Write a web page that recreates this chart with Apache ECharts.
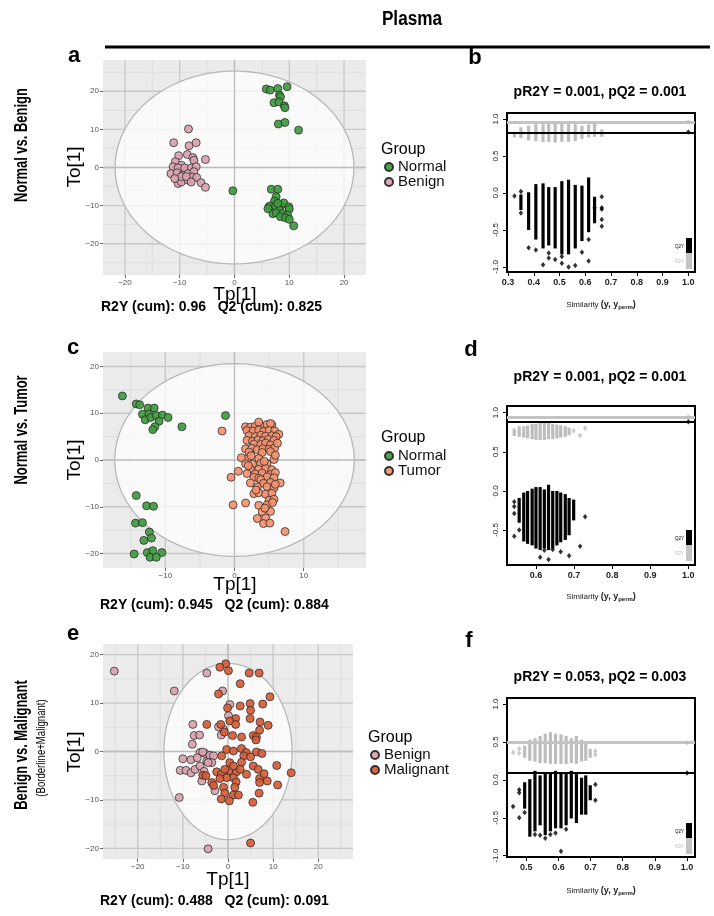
<!DOCTYPE html>
<html><head><meta charset="utf-8">
<script src="https://cdn.jsdelivr.net/npm/echarts@6/dist/echarts.min.js"></script>
<style>html,body{margin:0;padding:0;background:#fff}#c{width:714px;height:916px}</style>
</head><body><div id="c"></div>
<script>
// ---------------- DATA ----------------
// Panel a: Normal vs Benign (Tp[1], To[1])
const normalA = [[5.8,20.6],[6.5,20.3],[7.9,20.7],[9.6,21.2],[8.2,19.0],[8.4,18.5],[7.2,17.0],[8.1,17.2],[9.1,16.2],[9.2,15.7],[8.0,11.4],[9.2,11.8],[11.7,9.8],[-0.3,-6.1],[6.7,-5.7],[7.9,-5.7],[7.6,-7.7],[7.3,-8.8],[6.3,-10.3],[6.5,-10.1],[7.5,-10.1],[8.5,-9.9],[9.0,-9.3],[9.9,-10.3],[10.0,-10.9],[8.2,-11.2],[7.0,-12.1],[7.6,-11.9],[8.8,-12.1],[9.7,-12.5],[8.4,-12.9],[9.3,-13.2],[10.0,-13.6],[10.8,-15.3],[7.9,-9.4],[6.1,-10.8]];
const benignA = [[-8.4,10.1],[-11.1,6.5],[-8.3,5.7],[-7.0,6.5],[-8.6,3.4],[-10.2,3.1],[-10.8,1.5],[-7.6,2.6],[-7.4,1.9],[-5.3,2.1],[-9.7,0.6],[-11.2,0.2],[-10.3,-0.1],[-9.1,-0.1],[-7.9,-0.1],[-7.0,0.2],[-11.6,-1.6],[-10.5,-1.4],[-9.4,-2.0],[-8.5,-1.6],[-7.4,-1.1],[-10.3,-4.2],[-9.7,-3.8],[-8.5,-3.3],[-7.7,-2.5],[-6.9,-2.6],[-6.1,-4.0],[-5.3,-5.2],[-9.7,-2.4],[-10.9,-2.9],[-8.8,-2.4],[-7.9,-3.8]];
// Panel c: Normal vs Tumor
const normalC = [[-16.2,13.7],[-14.2,12.0],[-13.7,11.8],[-12.5,11.1],[-11.6,11.1],[-13.3,9.8],[-12.4,9.8],[-12.9,8.6],[-12.1,9.1],[-11.3,9.5],[-10.4,9.6],[-9.6,9.1],[-10.9,8.3],[-11.5,7.1],[-11.8,6.5],[-7.6,7.1],[-1.3,9.5],[-14.2,-7.6],[-12.7,-9.8],[-11.7,-9.9],[-14.3,-13.5],[-13.3,-13.4],[-12.3,-15.4],[-13.1,-17.2],[-12.0,-16.7],[-14.5,-20.1],[-12.6,-19.8],[-11.8,-19.4],[-10.5,-19.8],[-12.2,-20.8],[-11.3,-20.8]];
const tumorC = [[1.6,7.1],[2.3,7.0],[3.0,7.2],[3.8,7.3],[4.7,7.6],[5.4,7.5],[3.5,8.1],[5.2,7.8],[1.8,6.3],[2.7,6.2],[3.5,6.4],[4.2,6.1],[5.0,6.3],[5.8,6.2],[6.4,5.5],[2.1,5.2],[3.0,5.0],[3.8,5.3],[4.5,5.1],[5.4,5.2],[6.0,5.0],[1.8,4.2],[2.6,4.0],[3.4,4.3],[4.1,4.1],[4.9,4.4],[5.7,4.2],[2.8,3.4],[3.8,3.3],[4.5,3.6],[5.2,3.2],[1.6,2.4],[2.5,2.5],[3.3,2.2],[4.1,2.4],[5.0,2.3],[5.8,2.6],[2.1,1.7],[4.0,1.6],[5.2,1.8],[1.8,0.2],[3.5,0.3],[5.7,0.1],[5.9,1.0],[1.6,-0.8],[2.6,-0.9],[3.8,-0.7],[4.7,-0.8],[2.3,-1.9],[3.5,-2.0],[4.5,-1.8],[5.4,-2.1],[1.8,-2.9],[3.0,-3.0],[4.0,-2.8],[5.2,-3.1],[5.9,-2.7],[2.8,-3.7],[3.5,-3.9],[4.7,-3.6],[5.7,-3.8],[3.8,-4.2],[2.3,-4.9],[4.2,-5.0],[5.2,-4.8],[6.6,-4.9],[3.3,-5.8],[4.7,-5.7],[5.7,-6.0],[2.8,-7.2],[3.5,-7.0],[4.5,-7.3],[5.4,-7.1],[5.0,-8.6],[5.7,-8.4],[3.5,-9.7],[4.7,-9.6],[4.0,-11.1],[5.2,-11.0],[3.3,-12.5],[4.5,-12.4],[4.2,-13.6],[5.1,-13.5],[7.3,-15.3],[-1.8,6.2],[-0.5,-3.7],[0.55,-2.4],[-0.2,-9.6],[1.6,-9.2],[1.0,0.5],[2.0,-1.2],[4.3,-0.3],[3.1,-6.4],[5.5,-9.1],[4.4,-10.3],[5.9,-5.2],[2.4,0.9],[6.2,3.6]];
// Panel e: Benign vs Malignant
const benignE = [[-25.2,16.6],[-11.9,12.5],[-4.7,16.2],[-10.8,-9.5],[-4.4,-20.1],[-7.8,5.6],[-7.5,3.3],[-6.3,3.4],[-7.9,1.5],[-10.0,-1.5],[-10.6,-3.9],[-9.3,-3.9],[-8.2,-1.7],[-8.2,-4.4],[-7.3,-3.7],[-6.2,-3.0],[-6.2,-0.2],[-5.1,-0.4],[-4.7,-2.0],[-4.0,-0.8],[-3.2,-0.9],[-3.6,-2.3],[-5.8,-6.1],[-2.9,-8.1],[-1.2,12.5],[-1.5,3.4],[0.4,9.7],[-1.0,4.6],[-4.4,-2.3],[-5.3,-4.1],[-6.8,-1.3],[-5.6,-0.1],[-2.1,5.1],[0.1,7.4]];
const malignantE = [[-0.5,18.1],[-1.8,17.4],[0.1,16.7],[4.7,16.2],[6.9,16.2],[2.7,14.0],[-2.1,11.9],[9.3,11.3],[4.9,9.9],[7.7,9.8],[2.7,9.4],[-0.1,9.0],[5.0,8.5],[4.9,6.8],[1.7,6.8],[0.4,6.3],[7.1,6.1],[1.7,5.6],[-4.7,5.6],[-1.6,5.6],[8.9,5.4],[-0.8,4.0],[1.0,3.3],[3.0,3.0],[5.6,3.3],[6.3,3.0],[6.2,2.4],[7.0,4.4],[3.0,0.6],[-0.3,0.4],[1.2,0.1],[4.0,-0.2],[6.3,-0.1],[7.5,-0.4],[-1.4,-0.9],[3.5,-0.9],[5.0,-1.1],[0.4,-2.3],[3.0,-2.2],[5.6,-3.0],[6.7,-3.7],[-2.5,-4.2],[-1.5,-4.7],[0.2,-4.0],[1.9,-4.2],[2.7,-3.7],[4.1,-4.7],[7.0,-5.6],[8.0,-4.6],[8.7,-6.1],[7.0,-6.4],[10.8,-2.9],[14.0,-4.4],[11.0,-6.9],[1.2,-5.4],[-0.3,-5.4],[-1.8,-5.6],[-5.6,-4.9],[-4.9,-5.0],[-3.6,-6.4],[-3.2,-7.0],[-1.0,-7.4],[-0.7,-8.6],[1.2,-9.0],[2.3,-9.0],[-1.5,-9.8],[0.3,-10.2],[5.5,-10.5],[6.9,-8.6],[5.0,-18.9],[1.2,-3.0],[-0.7,-3.7],[1.8,-6.3],[1.5,-7.4]];
// 95% ellipses [cx, cy, rx, ry]
const ellipseA = [0, 0, 21.8, 25.3];
const ellipseC = [0, 0, 17.3, 20.6];
const ellipseE = [0, 0, 14.2, 18.2];
// Score-plot tick values
const ticksAx = [-20,-10,0,10,20], ticksAy = [-20,-10,0,10,20];
const ticksCx = [-10,0,10], ticksCy = [-20,-10,0,10,20];
const ticksEx = [-20,-10,0,10,20], ticksEy = [-20,-10,0,10,20];
const minorAx = [-15,-5,5,15], minorAy = [-25,-15,-5,5,15,25];
const minorCx = [-15,-5,5,15], minorCy = [-15,-5,5,15];
const minorEx = [-25,-15,-5,5,15,25], minorEy = [-15,-5,5,15];

// Panel b permutation (similarity columns, dense ranges and scattered points)
const permXB = [0.325,0.35,0.38,0.408,0.436,0.458,0.483,0.509,0.535,0.561,0.587,0.613,0.636,0.664];
const q2LoB = [null,-0.2,-0.47,-0.6,-0.72,-0.68,-0.72,-0.8,-0.8,-0.72,-0.62,-0.5,-0.38,null];
const q2HiB = [null,-0.05,-0.02,0.09,0.1,0.05,0.05,0.13,0.15,0.08,0.07,0.18,-0.08,null];
const r2LoB = [0.78,0.77,0.74,0.73,0.72,0.72,0.71,0.72,0.72,0.73,0.76,0.78,0.79,0.79];
const r2HiB = [0.8,0.86,0.88,0.9,0.9,0.91,0.92,0.91,0.9,0.9,0.88,0.88,0.9,0.83];
const q2PtsB = [[0.325,-0.04],[0.35,0.02],[0.35,-0.27],[0.38,-0.74],[0.408,-0.77],[0.436,-0.97],[0.458,-0.81],[0.458,-0.88],[0.483,-0.9],[0.509,-0.86],[0.509,-0.95],[0.535,-1.0],[0.561,-0.98],[0.587,-0.8],[0.613,-0.63],[0.613,-0.92],[0.636,-0.2],[0.664,-0.05],[0.664,-0.2],[0.664,-0.22],[0.664,-0.36],[0.664,-0.45],[1.0,0.825]];
const r2PtsB = [[0.613,0.91],[0.636,0.92],[1.0,0.96]];
const modelB = {r2: 0.96, q2: 0.825};
// Panel d
const permXD = [0.543,0.556,0.568,0.578,0.59,0.6,0.611,0.622,0.633,0.644,0.655,0.665,0.677,0.687,0.699];
const q2LoD = [null,-0.38,-0.62,-0.65,-0.67,-0.71,-0.73,-0.71,-0.73,-0.71,-0.67,-0.63,-0.6,-0.54,-0.35];
const q2HiD = [null,-0.12,-0.05,-0.03,0.0,0.02,0.02,-0.01,0.05,-0.03,-0.03,-0.05,-0.07,-0.12,-0.14];
const r2LoD = [0.73,0.72,0.71,0.7,0.69,0.68,0.68,0.68,0.69,0.69,0.7,0.71,0.72,0.74,null];
const r2HiD = [0.77,0.8,0.8,0.81,0.83,0.83,0.84,0.84,0.84,0.83,0.82,0.81,0.8,0.78,null];
const q2PtsD = [[0.543,-0.14],[0.543,-0.2],[0.543,-0.29],[0.543,-0.58],[0.556,-0.5],[0.611,-0.85],[0.622,-0.76],[0.633,-0.88],[0.644,-0.75],[0.665,-0.78],[0.687,-0.83],[0.716,-0.71],[0.729,-0.33],[1.0,0.884]];
const r2PtsD = [[0.699,0.77],[0.716,0.71],[0.729,0.8],[1.0,0.945]];
const modelD = {r2: 0.945, q2: 0.884};
// Panel f
const permXF = [0.495,0.511,0.527,0.543,0.559,0.575,0.591,0.608,0.624,0.64,0.656,0.672,0.685,0.699];
const q2LoF = [-0.35,-0.72,-0.65,-0.57,-0.7,-0.65,-0.61,-0.61,-0.57,-0.48,-0.54,-0.43,-0.43,-0.24];
const q2HiF = [-0.06,-0.02,0.09,0.03,0.07,0.05,0.09,0.05,0.07,0.09,0.07,0.0,0.03,-0.1];
const r2LoF = [0.32,0.28,0.27,0.25,0.25,0.24,0.24,0.24,0.24,0.25,0.24,0.27,0.28,0.32];
const r2HiF = [0.42,0.5,0.52,0.55,0.58,0.6,0.58,0.57,0.55,0.52,0.55,0.5,0.45,0.38];
const q2PtsF = [[0.459,-0.35],[0.478,-0.13],[0.478,-0.17],[0.478,-0.5],[0.495,-0.43],[0.527,-0.72],[0.543,-0.73],[0.559,-0.77],[0.575,-0.72],[0.591,-0.7],[0.608,-0.94],[0.624,-0.65],[0.715,-0.06],[0.715,-0.27],[1.0,0.091]];
const r2PtsF = [[0.459,0.36],[0.478,0.41],[0.478,0.35],[0.715,0.38],[0.715,0.33],[1.0,0.488]];
const modelF = {r2: 0.488, q2: 0.091};
const permTicksY = [-1,-0.5,0,0.5,1];
const permTicksYD = [-0.5,0,0.5,1];
const permTicksXB = [0.3,0.4,0.5,0.6,0.7,0.8,0.9,1.0];
const permTicksXD = [0.6,0.7,0.8,0.9,1.0];
const permTicksXF = [0.5,0.6,0.7,0.8,0.9,1.0];

// ---------------- STYLE ----------------
const C_NORMAL = '#3f9a3f', C_BENIGN = '#d8a2ae', C_TUMOR = '#f3906e', C_MALIG = '#d65c36';
const FONT = "'Liberation Sans', Arial, sans-serif";
const fmtM = v => v < 0 ? '\u2212' + Math.abs(v) : String(v);
const fmt1 = v => (v < 0 ? '-' : '') + Math.abs(v).toFixed(1);

const chart = echarts.init(document.getElementById('c'), null, {renderer: 'canvas'});

const grids = [
  {left:103, top:60, width:263, height:215, show:true, backgroundColor:'#ebebeb', borderWidth:0},
  {left:103, top:352, width:263, height:216, show:true, backgroundColor:'#ebebeb', borderWidth:0},
  {left:103, top:644, width:250, height:215, show:true, backgroundColor:'#ebebeb', borderWidth:0},
  {left:507, top:113, width:188, height:159, show:true, backgroundColor:'#fff', borderColor:'#000', borderWidth:2},
  {left:507, top:406, width:188, height:159, show:true, backgroundColor:'#fff', borderColor:'#000', borderWidth:2},
  {left:507, top:698, width:188, height:159, show:true, backgroundColor:'#fff', borderColor:'#000', borderWidth:2}
];

function scoreAxis(gi, min, max, ticks, isX) {
  return {
    gridIndex: gi, type: 'value', min, max, position: isX ? 'bottom' : 'left',
    axisLine: {show: false, onZero: false},
    axisTick: {show: true, customValues: ticks, length: 3, lineStyle: {color: '#444', width: 0.8}},
    axisLabel: {customValues: ticks, formatter: fmtM, fontSize: 8, color: '#555', margin: 4, fontFamily: FONT},
    splitLine: {show: false}
  };
}
function permAxis(gi, min, max, ticks, isX) {
  return {
    gridIndex: gi, type: 'value', min, max, position: isX ? 'bottom' : 'left',
    axisLine: {show: false, onZero: false},
    axisTick: {show: true, customValues: ticks, length: 4, lineStyle: {color: '#000', width: 1}},
    axisLabel: isX
      ? {customValues: ticks, formatter: fmt1, fontSize: 9, fontWeight: 'bold', color: '#222', margin: 6, fontFamily: FONT}
      : {customValues: ticks, formatter: fmt1, fontSize: 8, color: '#222', margin: 7, rotate: 90, fontFamily: FONT},
    splitLine: {show: false}
  };
}

const xAxes = [
  scoreAxis(0, -24, 24, ticksAx, true),
  scoreAxis(1, -19, 19, ticksCx, true),
  scoreAxis(2, -27.7, 27.7, ticksEx, true),
  permAxis(3, 0.296, 1.026, permTicksXB, true),
  permAxis(4, 0.524, 1.0175, permTicksXD, true),
  permAxis(5, 0.44, 1.025, permTicksXF, true)
];
const yAxes = [
  scoreAxis(0, -28.2, 28.2, ticksAy, false),
  scoreAxis(1, -23.1, 23.1, ticksCy, false),
  scoreAxis(2, -22.2, 22.2, ticksEy, false),
  permAxis(3, -1.068, 1.081, permTicksY, false),
  permAxis(4, -0.949, 1.086, permTicksYD, false),
  permAxis(5, -1.017, 1.079, permTicksY, false)
];

function lineSeries(gi, vx, hy, color, width, z) {
  const data = vx.map(v => [v, 0]).concat(hy.map(v => [v, 1]));
  return {
    type: 'custom', xAxisIndex: gi, yAxisIndex: gi, z, silent: true, data,
    renderItem(params, api) {
      const v = api.value(0), dir = api.value(1), cs = params.coordSys;
      let shape;
      if (dir === 0) { const p = api.coord([v, 0]); shape = {x1: p[0], y1: cs.y, x2: p[0], y2: cs.y + cs.height}; }
      else { const p = api.coord([0, v]); shape = {x1: cs.x, y1: p[1], x2: cs.x + cs.width, y2: p[1]}; }
      return {type: 'line', shape, style: {stroke: color, lineWidth: width}};
    }
  };
}
function ellipseSeries(gi, e) {
  return {
    type: 'custom', xAxisIndex: gi, yAxisIndex: gi, z: 2, silent: true, data: [e],
    renderItem(params, api) {
      const cx = api.value(0), cy = api.value(1), rx = api.value(2), ry = api.value(3);
      const pts = [];
      for (let i = 0; i < 180; i++) {
        const t = i / 180 * Math.PI * 2;
        pts.push(api.coord([cx + rx * Math.cos(t), cy + ry * Math.sin(t)]));
      }
      return {type: 'polygon', shape: {points: pts}, style: {fill: 'rgba(255,255,255,0.72)', stroke: '#b8b8b8', lineWidth: 1.3}};
    }
  };
}
function scoreScatter(gi, name, data, color) {
  return {
    type: 'scatter', name, xAxisIndex: gi, yAxisIndex: gi, z: 4, data, symbolSize: 8,
    itemStyle: {color, borderColor: '#262626', borderWidth: 0.8, opacity: 0.92}
  };
}
function colSeries(gi, xs, lo, hi, color) {
  const data = xs.map((x, i) => [x, lo[i], hi[i]]).filter(d => d[1] != null);
  return {
    type: 'custom', xAxisIndex: gi, yAxisIndex: gi, z: 3, silent: true, data,
    renderItem(params, api) {
      const a = api.coord([api.value(0), api.value(2)]);
      const b = api.coord([api.value(0), api.value(1)]);
      return {type: 'rect', shape: {x: a[0] - 1.6, y: a[1] - 2.2, width: 3.2, height: b[1] - a[1] + 4.4}, style: {fill: color}};
    }
  };
}
function ptSeries(gi, data, color, lineVal, lineColor, lineWidth, z) {
  return {
    type: 'scatter', xAxisIndex: gi, yAxisIndex: gi, z, silent: true, data,
    symbol: 'diamond', symbolSize: [4.5, 5.5], itemStyle: {color},
    markLine: {silent: true, symbol: 'none', label: {show: false}, data: [{yAxis: lineVal}],
      lineStyle: {color: lineColor, width: lineWidth, type: 'solid'}, animation: false}
  };
}

const series = [
  // panel a
  lineSeries(0, minorAx, minorAy, '#d9d9d9', 0.7, 1),
  lineSeries(0, ticksAx, ticksAy, '#c8c8c8', 1.3, 1),
  ellipseSeries(0, ellipseA),
  lineSeries(0, [0], [0], '#bdbdbd', 1.3, 3),
  scoreScatter(0, 'Normal', normalA, C_NORMAL),
  scoreScatter(0, 'Benign', benignA, C_BENIGN),
  // panel c
  lineSeries(1, minorCx, minorCy, '#d9d9d9', 0.7, 1),
  lineSeries(1, ticksCx, ticksCy, '#c8c8c8', 1.3, 1),
  ellipseSeries(1, ellipseC),
  lineSeries(1, [0], [0], '#bdbdbd', 1.3, 3),
  scoreScatter(1, 'Normal', normalC, C_NORMAL),
  scoreScatter(1, 'Tumor', tumorC, C_TUMOR),
  // panel e
  lineSeries(2, minorEx, minorEy, '#d9d9d9', 0.7, 1),
  lineSeries(2, ticksEx, ticksEy, '#c8c8c8', 1.3, 1),
  ellipseSeries(2, ellipseE),
  lineSeries(2, [0], [0], '#bdbdbd', 1.3, 3),
  scoreScatter(2, 'Benign', benignE, C_BENIGN),
  scoreScatter(2, 'Malignant', malignantE, C_MALIG),
  // panel b
  colSeries(3, permXB, r2LoB, r2HiB, '#bdbdbd'),
  colSeries(3, permXB, q2LoB, q2HiB, '#000'),
  ptSeries(3, r2PtsB, '#bdbdbd', modelB.r2, '#c4c4c4', 3, 5),
  ptSeries(3, q2PtsB, '#000', modelB.q2, '#000', 2, 6),
  // panel d
  colSeries(4, permXD, r2LoD, r2HiD, '#bdbdbd'),
  colSeries(4, permXD, q2LoD, q2HiD, '#000'),
  ptSeries(4, r2PtsD, '#bdbdbd', modelD.r2, '#c4c4c4', 3, 5),
  ptSeries(4, q2PtsD, '#000', modelD.q2, '#000', 2, 6),
  // panel f
  colSeries(5, permXF, r2LoF, r2HiF, '#bdbdbd'),
  colSeries(5, permXF, q2LoF, q2HiF, '#000'),
  ptSeries(5, r2PtsF, '#bdbdbd', modelF.r2, '#c4c4c4', 3, 5),
  ptSeries(5, q2PtsF, '#000', modelF.q2, '#000', 2, 6)
];

function legendCfg(names, left, top, gap) {
  return {
    data: names, orient: 'vertical', left, top, padding: 0, itemGap: 0,
    itemWidth: 8, itemHeight: 8, itemTextGap: gap, icon: 'circle', selectedMode: false,
    textStyle: {fontSize: 15, lineHeight: 13, color: '#111', fontFamily: FONT}
  };
}

function txt(text, x, y, font, opts) {
  opts = opts || {};
  return {type: 'text', x, y, rotation: opts.rot || 0, scaleX: opts.sx || 1, silent: true,
    style: {text, font, fill: opts.fill || '#000', textAlign: opts.align || 'center', textVerticalAlign: 'middle'}};
}
function simLabel(x, y) {
  return {type: 'text', x, y, silent: true, style: {
    text: '{a|Similarity }{b|(y, y}{s|perm}{b|)}',
    textAlign: 'center', textVerticalAlign: 'middle',
    rich: {
      a: {fontSize: 8, fontFamily: FONT, fill: '#222'},
      b: {fontSize: 9, fontFamily: FONT, fontWeight: 'bold', fill: '#222'},
      s: {fontSize: 6, fontFamily: FONT, fontWeight: 'bold', fill: '#222', padding: [5, 0, 0, 0]}
    }
  }};
}
function legendBox(yTop) {
  return [
    {type: 'rect', shape: {x: 686, y: yTop, width: 6, height: 15}, style: {fill: '#000'}, silent: true},
    {type: 'rect', shape: {x: 686, y: yTop + 15, width: 6, height: 16}, style: {fill: '#c4c4c4'}, silent: true},
    txt('Q2Y', 684, yTop + 9, '4.5px ' + FONT, {align: 'right'}),
    txt('R2Y', 684, yTop + 24, '4.5px ' + FONT, {align: 'right', fill: '#bbb'})
  ];
}

const BOLD_TITLE = 'bold 14px ' + FONT;
const ROT = Math.PI / 2;
const graphics = [
  txt('Plasma', 412, 19, 'bold 20px ' + FONT, {sx: 0.86}),
  {type: 'line', shape: {x1: 105, y1: 47, x2: 710, y2: 47}, style: {stroke: '#000', lineWidth: 3}, silent: true},
  // panel letters
  txt('a', 74, 56, 'bold 22px ' + FONT), txt('b', 475, 58, 'bold 22px ' + FONT),
  txt('c', 73, 348, 'bold 22px ' + FONT), txt('d', 471, 350, 'bold 22px ' + FONT),
  txt('e', 73, 634, 'bold 22px ' + FONT), txt('f', 469, 641, 'bold 22px ' + FONT),
  // row labels
  txt('Normal vs. Benign', 22, 145, 'bold 18px ' + FONT, {rot: ROT, sx: 0.72}),
  txt('Normal vs. Tumor', 22, 430, 'bold 18px ' + FONT, {rot: ROT, sx: 0.72}),
  txt('Benign vs. Malignant', 22, 745, 'bold 18px ' + FONT, {rot: ROT, sx: 0.72}),
  txt('(Borderline+Malignant)', 42, 748, '12px ' + FONT, {rot: ROT, sx: 0.8}),
  // axis titles
  txt('To[1]', 75, 167, '19px ' + FONT, {rot: ROT}),
  txt('To[1]', 75, 460, '19px ' + FONT, {rot: ROT}),
  txt('To[1]', 75, 752, '19px ' + FONT, {rot: ROT}),
  txt('Tp[1]', 235, 295, '19px ' + FONT),
  txt('Tp[1]', 235, 585, '19px ' + FONT),
  txt('Tp[1]', 228, 880, '19px ' + FONT),
  // stats
  txt('R2Y (cum): 0.96   Q2 (cum): 0.825', 101, 307, BOLD_TITLE, {align: 'left'}),
  txt('R2Y (cum): 0.945   Q2 (cum): 0.884', 100, 605, BOLD_TITLE, {align: 'left'}),
  txt('R2Y (cum): 0.488   Q2 (cum): 0.091', 100, 901, BOLD_TITLE, {align: 'left'}),
  // legend titles
  txt('Group', 381, 150, '16px ' + FONT, {align: 'left'}),
  txt('Group', 381, 438, '16px ' + FONT, {align: 'left'}),
  txt('Group', 368, 738, '16px ' + FONT, {align: 'left'}),
  // permutation titles
  txt('pR2Y = 0.001, pQ2 = 0.001', 600, 92, BOLD_TITLE),
  txt('pR2Y = 0.001, pQ2 = 0.001', 600, 377, BOLD_TITLE),
  txt('pR2Y = 0.053, pQ2 = 0.003', 600, 677, BOLD_TITLE),
  simLabel(601, 305), simLabel(601, 597), simLabel(601, 891)
].concat(legendBox(238), legendBox(530), legendBox(823));

chart.setOption({
  animation: false,
  grid: grids,
  xAxis: xAxes,
  yAxis: yAxes,
  legend: [
    legendCfg(['Normal', 'Benign'], 384, 159.5, 4),
    legendCfg(['Normal', 'Tumor'], 384, 448.5, 4),
    legendCfg(['Benign', 'Malignant'], 370, 747.5, 6)
  ],
  series,
  graphic: {elements: graphics}
});
</script>
</body></html>
